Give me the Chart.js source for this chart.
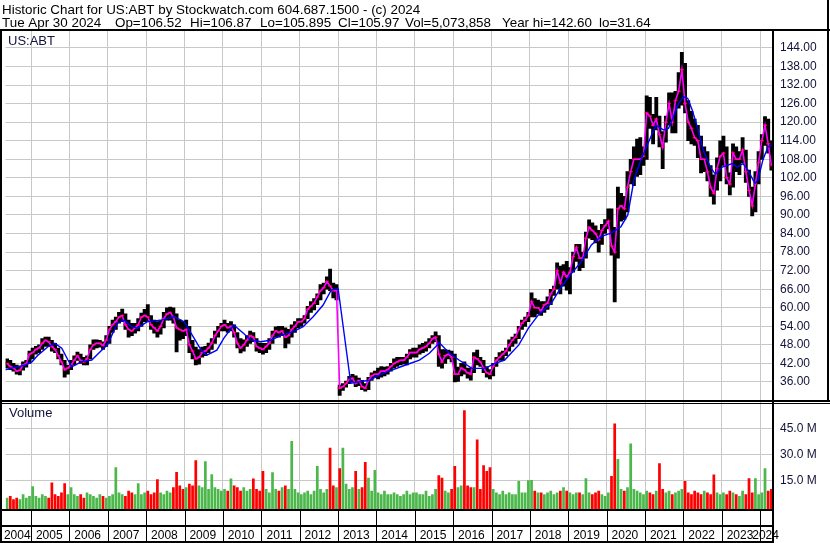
<!DOCTYPE html>
<html>
<head>
<meta charset="utf-8">
<script src="https://cdn.jsdelivr.net/npm/chart.js@4.4.1/dist/chart.umd.min.js"></script>
<style>
  html, body { margin: 0; padding: 0; background: #fff; }
  #wrap { width: 830px; height: 543px; position: relative; }
  canvas { display: block; }
</style>
</head>
<body>
<div id="wrap"><canvas id="myChart" width="830" height="543"></canvas></div>
<script>
// monthly bars, May 2004 .. Apr 2024 (one row per calendar year)
const firstYear = 2004, firstMonth = 5;

const highs = [
  43.5, 43, 42, 41.5, 41, 42.5, 43, 46,
  47, 47.5, 48, 50, 50.5, 50.5, 49.5, 48.5, 47, 45, 43, 41.5,
  43, 44.5, 45.7, 45, 44, 44.5, 48, 49.6, 49.6, 49.5, 49, 51,
  54, 56, 57, 58.5, 59.6, 58, 56, 55, 55, 56.5, 58.3, 59.5,
  61, 57.5, 56, 55.5, 56, 58.5, 60, 60.2, 60, 58, 56, 55.5,
  56, 54, 49.5, 47.3, 46.5, 47.3, 47.5, 48.6, 50, 52.5, 54, 55,
  56, 55, 55.5, 54.5, 52, 50, 49.6, 51, 52.5, 52, 50, 48.6,
  48.5, 48.5, 50, 52.5, 53.8, 54, 54, 53.5, 53, 54.5, 55.5, 56.5,
  56.5, 57.5, 60.5, 62, 63, 64.5, 67.5, 68, 70, 72.5, 68, 67.5,
  35, 35.5, 36.3, 37.8, 38.5, 38, 37.3, 36.5, 35.5, 37.5, 39, 39.5,
  40.5, 41, 40.8, 41, 42, 43.5, 44, 44, 44, 45, 46.5, 47,
  47, 48, 48.5, 49, 50, 51, 52.2, 51, 46.5, 46.5, 46.3, 46,
  45, 40.8, 42, 42.5, 40.5, 40.5, 45.5, 46.3, 44, 43, 41, 40,
  42, 44, 45.5, 46, 47, 49.6, 50.5, 51.5, 54, 56, 57, 58.5,
  64.8, 63, 62.5, 62, 62, 63.5, 66, 67, 74.5, 73.5, 74, 75,
  73, 78, 80.5, 80.5, 78, 84.5, 88.4, 87.5, 86.5, 85, 87, 88.5,
  92, 92, 86, 99, 97, 96, 104, 108, 112, 114.5, 115, 112,
  128.5, 128, 122.5, 128, 122, 117, 122, 129.5, 129.5, 130, 136, 142.6,
  139, 127, 123.5, 121, 119, 115.5, 112, 110.5, 106, 103, 108.5, 114,
  115.5, 112, 103.6, 113, 112, 110.5, 115, 111, 104.5, 99, 104, 110.5,
  116, 121.8, 121, 114
];

const lows = [
  40.5, 40, 39.5, 38.5, 38.3, 39.8, 40.8, 42,
  43.5, 45, 45.5, 46.5, 47.5, 47.5, 46, 45.5, 43.5, 41.5, 37.6, 38.5,
  40, 41.5, 43, 42, 41.5, 41.5, 43.5, 46.5, 47, 47.3, 46.5, 47.5,
  48.5, 52, 53, 55, 55.5, 53, 50.5, 51, 51.8, 52.5, 54, 55.5,
  55.5, 53, 51.8, 50.5, 51.5, 53.5, 56, 56, 55, 45.7, 49.5, 50,
  51, 45.5, 43.5, 41.5, 41.8, 44, 44.5, 45.5, 46.5, 48.5, 50.5, 52.5,
  52.5, 52, 52.5, 50.5, 47, 45.4, 46, 47.5, 48.5, 49, 46, 45.5,
  45, 45.5, 46.5, 48.5, 50.5, 50.5, 51, 47, 48.5, 50.5, 52, 53.5,
  54, 55, 56.5, 58.5, 59.3, 61, 62.5, 64.5, 66, 65.5, 63.2, 62.5,
  31.64, 33.3, 34.3, 35.5, 36, 34.5, 34.8, 33.5, 33, 33.5, 36.5, 37.5,
  37, 37.6, 38, 38.5, 39.5, 40.5, 41, 41.5, 41.8, 41.5, 43.5, 44,
  44, 45, 45.5, 46, 47, 48.5, 49, 41, 40.5, 42, 43.5, 42.5,
  36, 36.2, 38, 38.5, 37.2, 36.6, 39, 41.5, 41, 39, 37.6, 37,
  38, 41, 43, 43, 44.5, 46, 47.5, 48.5, 50, 53, 54, 55.5,
  57, 57, 58, 57.5, 58.5, 59.5, 61, 64, 66, 64.5, 67, 65.7,
  64.5, 71.5, 75, 72, 73, 76, 82.5, 82, 81, 78, 80.5, 84,
  85.5, 77, 61.9, 76, 88, 88.5, 91, 100, 99.5, 102.5, 103, 106,
  108, 118, 113, 117.5, 112, 105, 113.5, 119, 116.5, 116.5, 124.5, 125.5,
  123, 114, 113, 112.5, 108.5, 103.6, 104, 101, 96, 93.5, 98, 101,
  106, 100, 96.5, 99, 104, 103, 106.8, 100.5, 96, 89.7, 91, 100,
  108, 112.5, 110, 104.5
];

const closes = [
  42, 41, 40.5, 39.5, 39.8, 41.5, 42, 45,
  45.5, 46.5, 47, 48.5, 49.5, 49, 47.5, 46.5, 44.5, 42.5, 40, 40.5,
  41.5, 43, 44.5, 43, 42.5, 43.5, 46.5, 48, 48.5, 48.5, 47.8, 49.5,
  53, 54.5, 55.5, 57, 57.5, 54.5, 53, 52.5, 53.5, 54.5, 57, 57.5,
  57, 54.5, 53.5, 52.5, 54, 56.5, 58, 58.5, 57, 53.5, 53, 52.5,
  53, 48, 46, 43.5, 44, 45.5, 46, 47, 48.5, 51, 52.5, 54,
  54.5, 53.5, 54, 52, 48.5, 47, 48, 49.5, 51, 50.5, 47.5, 47,
  46.5, 47.5, 48.5, 51, 52.5, 52, 52.5, 50.5, 51, 53, 54, 55.5,
  55.5, 56.5, 59.5, 60.5, 61.5, 63.5, 65.5, 66.5, 68.5, 67, 65.5, 65.5,
  34, 34.5, 35.5, 36.8, 37.2, 35.5, 36.5, 34.5, 34, 36.5, 38, 38.5,
  38.5, 39.5, 39.5, 40, 41, 42, 42.5, 43, 43, 44, 45.5, 45.5,
  45.5, 46.5, 47, 47.5, 48.5, 50, 50.5, 45, 42.5, 44.5, 45, 44,
  38.5, 38.5, 40.5, 40, 39, 38.5, 44, 43.5, 42.5, 40.5, 39, 38.5,
  41, 43, 44, 45, 46, 48, 49.5, 50.5, 53, 55, 56, 57.5,
  62, 60, 60, 59, 61, 61.5, 64.5, 66, 72, 68, 71.5, 70,
  71.5, 76.5, 79.5, 76, 76, 82.5, 86, 85, 84, 82, 85, 86.5,
  88, 80, 78, 92, 93, 92, 99, 104, 108, 108, 108, 109,
  123, 122, 119, 121, 116, 112, 120, 126, 120, 127, 130, 137,
  126, 120, 118, 115, 114, 108, 108, 104, 99, 97, 105, 109,
  110, 102, 100, 110, 108, 108, 111, 104, 98, 93, 100, 107,
  114, 119, 113, 106
];

// volume, millions of shares
const volumes = [
  5, 6, 4, 5, 4, 7, 5, 6,
  11.5, 6, 5, 7, 6, 5, 13.8, 7, 6, 8, 13.3, 7,
  11, 7, 6, 7, 5, 8, 7, 6, 5, 7, 6, 5,
  6, 7, 22.5, 8, 7, 6, 9, 8, 7, 13.3, 7, 8,
  9, 7, 8, 15.6, 8, 7, 9, 8, 11, 19.8, 12, 10,
  11, 13, 12, 26.5, 12, 11, 26, 10, 18.5, 11, 10, 9,
  10, 9, 16, 12, 11, 9, 11, 9, 10, 16, 10, 9,
  20.4, 10, 8, 19.6, 10, 9, 11, 12, 10, 37.7, 10, 8,
  7, 8, 9, 7, 9, 23.3, 10, 8, 10, 33.8, 12, 11,
  22, 33.8, 13, 10, 11, 20.4, 10, 11, 25.6, 16.5, 9, 21,
  8, 7, 9, 7, 7, 8, 7, 6, 7, 9, 7, 8,
  8, 7, 7, 9, 6, 7, 10, 17.9, 16.5, 9, 8, 10,
  23.3, 11, 12, 55.4, 12, 11, 11, 38.6, 10, 23.7, 20.4, 22.6,
  10, 8, 7, 9, 7, 8, 7, 7, 14.6, 8, 8, 15,
  15.2, 9, 8, 8, 7, 8, 9, 7, 8, 9, 11, 9,
  8, 7, 8, 8, 7, 16.2, 8, 7, 8, 9, 7, 6,
  8, 17.5, 47.7, 27.3, 10, 9, 11, 36.3, 10, 9, 8, 7,
  9, 8, 7, 9, 24.8, 10, 8, 9, 7, 8, 9, 10,
  14.6, 8, 7, 9, 8, 7, 9, 8, 7, 18.4, 8, 7,
  8, 7, 9, 8, 7, 6, 9, 7, 16.2, 8, 16.2, 7,
  8, 22, 9, 10
];

// slow moving average (blue), read at irregular dates (decimal years)
const maSlowDates = [
  2004.33, 2004.59, 2004.85, 2005.03, 2005.18, 2005.44, 2005.62, 2005.80, 2005.96,
  2006.06, 2006.32, 2006.58, 2006.84, 2006.99, 2007.25, 2007.43, 2007.62, 2007.77,
  2008.03, 2008.39, 2008.73, 2008.99, 2009.25, 2009.43, 2009.58, 2009.84,
  2010.02, 2010.28, 2010.54, 2010.72, 2010.98, 2011.24, 2011.50, 2011.83,
  2012.09, 2012.35, 2012.61, 2012.82, 2013.00, 2013.33, 2013.57, 2013.83,
  2014.08, 2014.42, 2014.76, 2015.12, 2015.38, 2015.64, 2015.90,
  2016.15, 2016.49, 2016.83, 2017.09, 2017.34, 2017.71, 2017.96,
  2018.22, 2018.56, 2018.82, 2019.08, 2019.34, 2019.60, 2019.85,
  2020.11, 2020.37, 2020.55, 2020.71, 2020.89, 2021.15, 2021.28, 2021.48,
  2021.61, 2021.74, 2021.87, 2022.00, 2022.11, 2022.23, 2022.36, 2022.52,
  2022.70, 2022.83, 2023.01, 2023.27, 2023.40, 2023.55, 2023.68, 2023.86,
  2023.94, 2024.07, 2024.20, 2024.30
];
const maSlow = [
  39.9, 40.8, 41.5, 42.6, 44.7, 47.4, 48.5, 46.9, 43.1,
  40.9, 42.6, 43.1, 46.3, 48, 55, 56, 53.9, 53.4,
  55.5, 56, 57.1, 55.5, 50.1, 46.3, 44.7, 46.3,
  50.1, 54.4, 51.7, 49.6, 49, 49.5, 51, 52.3,
  53.9, 57.1, 60.9, 65.7, 66.3, 35.6, 36.1, 36.6,
  38.3, 39.9, 41.5, 43.1, 45.3, 48.7, 45.3,
  43.1, 40.4, 40.4, 42, 43.1, 48, 53.4,
  57.7, 61.5, 66.8, 71.1, 74.9, 80.3, 83,
  84.1, 86.2, 90, 101.3, 107.8, 115.3, 119, 117.5,
  118, 121.8, 126, 128.2, 127.7, 123.9, 118.5, 110.8,
  105.5, 103.2, 105.5, 106.6, 105.5, 106.6, 104.5, 100.2,
  101.2, 107.8, 112, 112.6
];

const priceTicks = [36, 42, 48, 54, 60, 66, 72, 78, 84, 90, 96, 102, 108, 114, 120, 126, 132, 138, 144];
const volumeTicks = [15, 30, 45];
const yearLabels = [2004, 2005, 2006, 2007, 2008, 2009, 2010, 2011, 2012, 2013, 2014,
  2015, 2016, 2017, 2018, 2019, 2020, 2021, 2022, 2023, 2024];

const headerTitle = 'Historic Chart for US:ABT by Stockwatch.com 604.687.1500 - (c) 2024';
const headerQuote = ['Tue Apr 30 2024', 'Op=106.52', 'Hi=106.87', 'Lo=105.895',
  'Cl=105.97', 'Vol=5,073,858', 'Year hi=142.60', 'lo=31.64'];
const headerQuoteX = [2, 115, 190, 260, 338, 405, 502, 599];

const FONT = "'Liberation Sans', Arial, sans-serif";
const GRID = '#c8c8c8';
const LABEL = '#12123a';

// month centre on a decimal-year axis
const monthX = highs.map((h, i) => firstYear + (firstMonth - 1 + i + 0.5) / 12);
const xMin = firstYear + (firstMonth - 1) / 12;
const xMax = xMin + highs.length / 12;

const volColors = volumes.map((v, i) =>
  i === 0 || closes[i] >= closes[i - 1] ? '#4cb84c' : '#ff0000');

const framePlugin = {
  id: 'frame',
  beforeDraw(chart) {
    const c = chart.ctx;
    c.save();
    c.fillStyle = '#fff';
    c.fillRect(0, 0, chart.width, chart.height);
    c.restore();
  },
  afterDraw(chart) {
    const c = chart.ctx;
    const a = chart.chartArea;
    const xs = chart.scales.x;
    const sep = chart.scales.yv.top;
    c.save();
    c.fillStyle = '#000';
    // frame lines
    c.fillRect(0, a.top - 2, chart.width, 2);
    c.fillRect(0, a.top - 2, 2, chart.height - a.top + 2);
    c.fillRect(a.right - 1, a.top - 2, 2, chart.height - a.top + 2);
    c.fillRect(chart.width - 3, 0, 2, sep + 2);
    c.fillRect(0, sep, chart.width, 2);
    c.fillRect(0, sep + 3, chart.width, 1);
    c.fillRect(0, a.bottom, a.right, 2);
    c.fillRect(0, a.bottom + 16, a.right, 2);
    c.fillRect(0, chart.height - 2, a.right, 2);
    // year boxes
    yearLabels.forEach(y => {
      if (y > xMin && y < xMax) {
        const px = Math.round(xs.getPixelForValue(y));
        c.fillRect(px, a.bottom, 1, chart.height - a.bottom);
      }
    });
    c.font = '12px ' + FONT;
    c.fillStyle = '#000';
    c.textAlign = 'center';
    c.textBaseline = 'alphabetic';
    yearLabels.forEach(y => {
      const l = Math.max(a.left, xs.getPixelForValue(y));
      const r = Math.min(a.right, xs.getPixelForValue(y + 1));
      c.fillText(String(y), (l + r) / 2 - 1, chart.height - 4);
    });
    // header
    c.textAlign = 'left';
    c.font = '13.4px ' + FONT;
    c.fillText(headerTitle, 2, 14);
    headerQuote.forEach((t, i) => c.fillText(t, headerQuoteX[i], 27));
    c.fillStyle = LABEL;
    c.font = '13px ' + FONT;
    c.fillText('US:ABT', 8, a.top + 14);
    c.fillText('Volume', 9, sep + 17);
    c.restore();
  }
};

const ctx = document.getElementById('myChart');
new Chart(ctx, {
  type: 'bar',
  data: {
    datasets: [{
      type: 'line',
      data: maSlowDates.map((d, i) => ({ x: d, y: maSlow[i] })),
      yAxisID: 'y',
      borderColor: '#0000ff',
      borderWidth: 1.4,
      pointRadius: 0,
      order: 1
    }, {
      type: 'line',
      data: closes.map((v, i) => ({ x: monthX[i], y: v })),
      yAxisID: 'y',
      borderColor: '#ff00ff',
      borderWidth: 1.6,
      pointRadius: 0,
      order: 2
    }, {
      type: 'line',
      data: closes.map((v, i) => ({ x: monthX[i], y: v })),
      yAxisID: 'y',
      showLine: false,
      pointStyle: 'line',
      pointRadius: 2,
      pointBorderColor: '#ff0000',
      pointBorderWidth: 1.5,
      order: 3
    }, {
      data: highs.map((h, i) => ({ x: monthX[i], y: [lows[i], h] })),
      yAxisID: 'y',
      backgroundColor: '#000',
      grouped: false,
      barPercentage: 1,
      categoryPercentage: 1,
      order: 4
    }, {
      data: volumes.map((v, i) => ({ x: monthX[i], y: v })),
      yAxisID: 'yv',
      backgroundColor: volColors,
      base: -1.56,
      grouped: false,
      barPercentage: 1,
      categoryPercentage: 0.85,
      order: 5
    }]
  },
  options: {
    responsive: false,
    animation: false,
    devicePixelRatio: 1,
    layout: { padding: { top: 31, left: 0, right: 0, bottom: 0 } },
    plugins: { legend: { display: false }, tooltip: { enabled: false } },
    scales: {
      x: {
        type: 'linear',
        min: xMin,
        max: xMax,
        offset: false,
        grid: { color: GRID, drawTicks: false, offset: false },
        border: { display: false },
        ticks: { display: false },
        afterBuildTicks: s => { s.ticks = yearLabels.filter(y => y > xMin && y < xMax).map(v => ({ value: v })); },
        afterFit: s => { s.height = 34; }
      },
      y: {
        type: 'linear',
        position: 'right',
        stack: 'panes',
        stackWeight: 369,
        min: 30.18,
        max: 149.48,
        grid: { color: GRID, drawTicks: false },
        border: { display: false },
        ticks: {
          autoSkip: false,
          color: LABEL,
          font: { family: FONT, size: 12 },
          padding: 7,
          callback: v => v.toFixed(2)
        },
        afterBuildTicks: s => { s.ticks = priceTicks.map(v => ({ value: v })); },
        afterFit: s => { s.width = 57; }
      },
      yv: {
        type: 'linear',
        position: 'right',
        stack: 'panes',
        stackWeight: 109,
        min: -1.56,
        max: 61.33,
        grid: { color: GRID, drawTicks: false },
        border: { display: false },
        ticks: {
          autoSkip: false,
          color: LABEL,
          font: { family: FONT, size: 12 },
          padding: 7,
          callback: v => v.toFixed(1) + ' M'
        },
        afterBuildTicks: s => { s.ticks = volumeTicks.map(v => ({ value: v })); },
        afterFit: s => { s.width = 57; }
      }
    }
  },
  plugins: [framePlugin]
});
</script>
</body>
</html>
